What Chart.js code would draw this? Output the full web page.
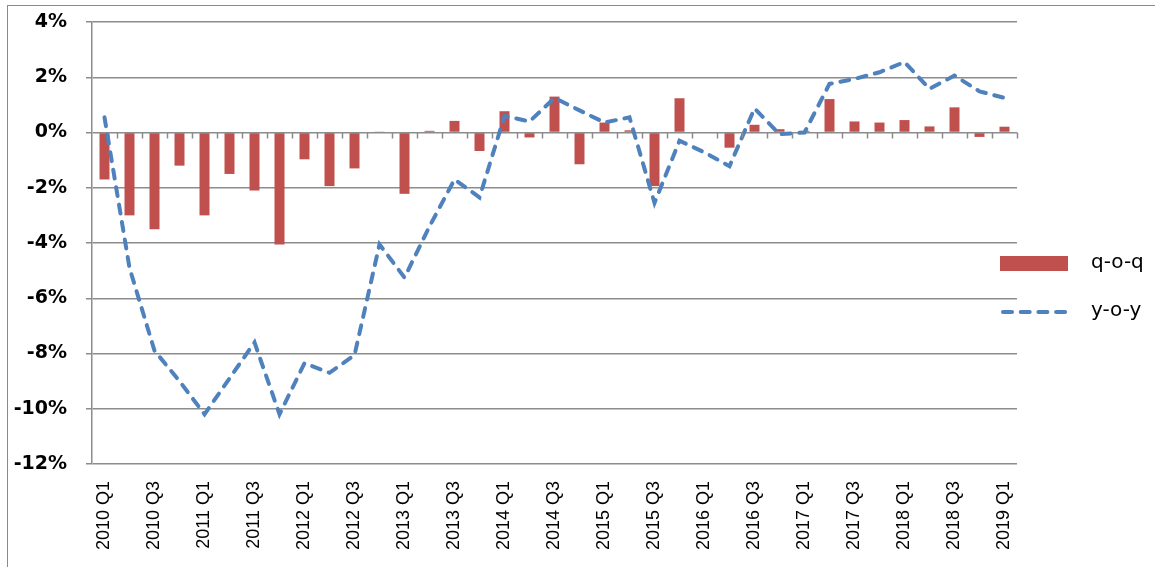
<!DOCTYPE html>
<html>
<head>
<meta charset="utf-8">
<script src="https://cdn.jsdelivr.net/npm/chart.js@4"></script>
<style>
  html, body { margin: 0; padding: 0; background: #fff; overflow: hidden; width: 1155px; height: 567px; }
  #frame { position: absolute; left: 7px; top: 5px; width: 1200px; height: 620px; border: 1px solid #8a8a8a; }
  #myChart { position: absolute; left: 0; top: 0; }
</style>
</head>
<body>
<div id="frame"></div>
<canvas id="myChart" width="1155" height="567"></canvas>
<script>
'use strict';

// Chart data

let quarters = [
  '2010 Q1', '2010 Q2', '2010 Q3', '2010 Q4',
  '2011 Q1', '2011 Q2', '2011 Q3', '2011 Q4',
  '2012 Q1', '2012 Q2', '2012 Q3', '2012 Q4',
  '2013 Q1', '2013 Q2', '2013 Q3', '2013 Q4',
  '2014 Q1', '2014 Q2', '2014 Q3', '2014 Q4',
  '2015 Q1', '2015 Q2', '2015 Q3', '2015 Q4',
  '2016 Q1', '2016 Q2', '2016 Q3', '2016 Q4',
  '2017 Q1', '2017 Q2', '2017 Q3', '2017 Q4',
  '2018 Q1', '2018 Q2', '2018 Q3', '2018 Q4',
  '2019 Q1'
];

let qoq = [
  -1.7, -3.0, -3.5, -1.2,
  -3.0, -1.5, -2.1, -4.05,
  -0.97, -1.94, -1.3, 0.02,
  -2.22, 0.06, 0.42, -0.67,
  0.77, -0.18, 1.3, -1.15,
  0.36, 0.08, -1.94, 1.24,
  0.0, -0.55, 0.28, 0.12,
  0.06, 1.21, 0.4, 0.36,
  0.45, 0.22, 0.91, -0.16,
  0.21
];

let yoy = [
  0.55, -4.9, -7.9, -9.0,
  -10.2, -8.9, -7.6, -10.2,
  -8.35, -8.7, -8.06, -4.05,
  -5.25, -3.4, -1.7, -2.35,
  0.6, 0.4, 1.25, 0.8,
  0.36, 0.55, -2.55, -0.3,
  -0.72, -1.22, 0.87, -0.06,
  0.0, 1.76, 1.94, 2.18,
  2.55, 1.58, 2.06, 1.49,
  1.25
];

let seriesNames = ['q-o-q', 'y-o-y'];
let yTicks = [4, 2, 0, -2, -4, -6, -8, -10, -12];

let barColor = '#c0504d';
let lineColor = '#4f81bd';
let gridColor = '#8c8c8c';

// small ticks along the 0% line, plus the legend on the right

let extras = {
  id: 'extras',
  afterDatasetsDraw(chart) {
    let ctx = chart.ctx;
    let x = chart.scales.x;
    let y = chart.scales.y;
    let zero = y.getPixelForValue(0);
    let n = quarters.length;
    let step = (x.right - x.left) / n;

    ctx.save();
    ctx.strokeStyle = gridColor;
    ctx.lineWidth = 1.5;
    ctx.beginPath();
    for (let i = 1; i <= n; i++) {
      let px = Math.round(x.left + i * step) + 0.5;
      ctx.moveTo(px, zero);
      ctx.lineTo(px, zero + 6);
    }
    ctx.stroke();
    ctx.restore();
  },
  afterDraw(chart) {
    let ctx = chart.ctx;
    ctx.save();
    ctx.font = '20px "DejaVu Sans"';
    ctx.textBaseline = 'middle';

    ctx.fillStyle = barColor;
    ctx.fillRect(1000, 256, 68, 15);
    ctx.fillStyle = '#000';
    ctx.fillText(seriesNames[0], 1091, 263);

    ctx.strokeStyle = lineColor;
    ctx.lineWidth = 4;
    ctx.lineCap = 'round';
    ctx.setLineDash([9, 8.7]);
    ctx.beginPath();
    ctx.moveTo(1003, 312);
    ctx.lineTo(1068, 312);
    ctx.stroke();
    ctx.setLineDash([]);
    ctx.fillText(seriesNames[1], 1091, 311);
    ctx.restore();
  }
};

let ctx = document.getElementById('myChart').getContext('2d');

let myChart = new Chart(ctx, {
  type: 'bar',
  data: {
    labels: quarters,
    datasets: [{
      type: 'line',
      label: seriesNames[1],
      data: yoy,
      borderColor: lineColor,
      backgroundColor: lineColor,
      borderWidth: 4,
      borderDash: [9, 8.7],
      borderCapStyle: 'round',
      pointRadius: 0,
      tension: 0,
      order: 1
    },
    {
      label: seriesNames[0],
      data: qoq,
      backgroundColor: barColor,
      barPercentage: 0.4,
      categoryPercentage: 1,
      order: 2
    }]
  },
  options: {
    responsive: false,
    animation: false,
    devicePixelRatio: 1,
    layout: {
      padding: { left: 0, right: 138, top: 22, bottom: 0 }
    },
    plugins: {
      legend: { display: false },
      tooltip: { enabled: false }
    },
    scales: {
      x: {
        grid: { display: false },
        border: { display: false },
        ticks: {
          autoSkip: false,
          minRotation: 90,
          maxRotation: 90,
          padding: 9,
          color: '#000',
          font: { family: '"Liberation Sans", Arial', size: 18 },
          callback: function (value, index) {
            return index % 2 === 0 ? quarters[index] : '';
          }
        },
        afterFit: function (scale) {
          scale.height = 103;
        }
      },
      y: {
        min: -12,
        max: 4,
        afterBuildTicks: function (scale) {
          scale.ticks = yTicks.map(v => ({ value: v }));
        },
        grid: {
          color: gridColor,
          lineWidth: 1.5,
          tickLength: 6,
          tickColor: gridColor
        },
        border: { display: true, color: gridColor, width: 1.5 },
        ticks: {
          padding: 19,
          color: '#000',
          font: { family: '"DejaVu Sans"', size: 19, weight: 'bold' },
          callback: function (value) {
            return value + '%';
          }
        },
        afterFit: function (scale) {
          scale.width = 92;
          // the tick padding should not push the plot down
          scale.paddingTop = 0;
          scale.paddingBottom = 0;
        }
      }
    }
  },
  plugins: [extras]
});
</script>
</body>
</html>
